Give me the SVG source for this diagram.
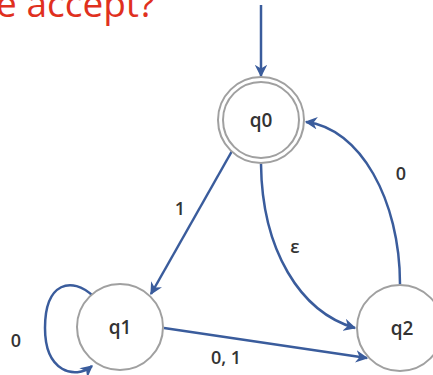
<svg xmlns="http://www.w3.org/2000/svg" width="433" height="375" viewBox="0 0 433 375">
<style>
.st{fill:#fff;stroke:#a0a0a0;stroke-width:2}
.lbl{font-family:"Open Sans","Liberation Sans",sans-serif;font-size:19px;font-weight:600;fill:#333;text-anchor:middle}
.e{fill:none;stroke:#3a5c9c;stroke-width:2.5}
.el{font-family:"Open Sans","Liberation Sans",sans-serif;font-size:18px;font-weight:600;fill:#333;text-anchor:middle}
</style>
<defs>
<marker id="ah" viewBox="0 0 10 10" refX="9" refY="5" markerWidth="5" markerHeight="5" orient="auto" markerUnits="strokeWidth">
<path d="M0,0 L10,5 L0,10 L3,5 Z" fill="#3a5c9c"/>
</marker>
</defs>
<text x="-4" y="17" font-family="'Open Sans','Liberation Sans',sans-serif" font-size="37" fill="#e0301e">e accept?</text>
<g id="edges">
<path class="e" d="M261,5 L261,76" marker-end="url(#ah)"/>
<path class="e" d="M232,151 L151,294" marker-end="url(#ah)"/>
<path class="e" d="M261,164 C262,250 300,312 355,328" marker-end="url(#ah)"/>
<path class="e" d="M400,284 C400,200 360,128 306,122" marker-end="url(#ah)"/>
<path class="e" d="M164,328 L367,358" marker-end="url(#ah)"/>
<path class="e" d="M93,296 C72,276 45,282 45,328 C45,372 75,380 92,366" marker-end="url(#ah)"/>
<text class="el" x="180" y="215">1</text>
<text class="el" x="295" y="253">ε</text>
<text class="el" x="401" y="180">0</text>
<text class="el" x="226" y="364">0, 1</text>
<text class="el" x="16" y="347">0</text>
</g>
<g id="q0">
<circle class="st" cx="261" cy="120" r="43"/>
<circle class="st" cx="261" cy="120" r="38"/>
<text class="lbl" x="261" y="127">q0</text>
</g>
<g id="q1">
<circle class="st" cx="120" cy="327" r="43"/>
<text class="lbl" x="120" y="334">q1</text>
</g>
<g id="q2">
<circle class="st" cx="400" cy="328" r="43"/>
<text class="lbl" x="402" y="335">q2</text>
</g>
</svg>
